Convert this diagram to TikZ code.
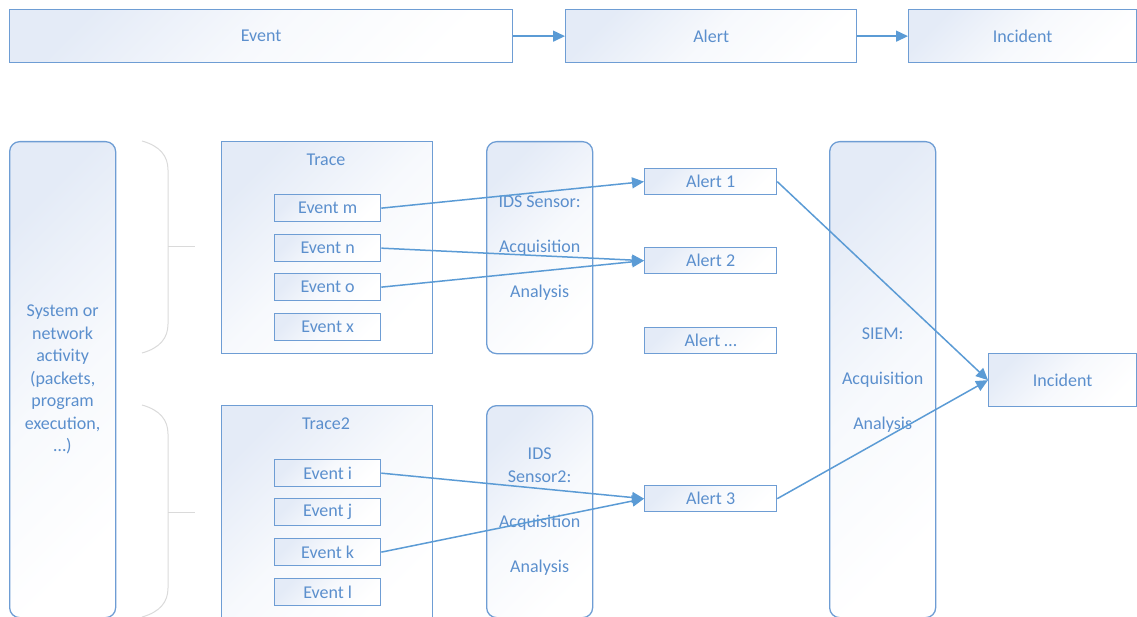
\documentclass[tikz,border=0pt]{standalone}
\usepackage{fontspec}
\setmainfont{Carlito}
\usetikzlibrary{arrows.meta}
\definecolor{txt}{RGB}{91,143,205}
\definecolor{bord}{RGB}{110,157,212}
\definecolor{arr}{RGB}{91,155,213}
\definecolor{shd}{RGB}{228,235,247}
\definecolor{brc}{RGB}{218,218,218}
\begin{document}
\begin{tikzpicture}[x=1pt,y=-1pt,
  box/.style={draw=bord, line width=1.3pt, top color=shd, bottom color=white, middle color=white!70!shd, shading angle=45,
    inner sep=0pt, text=txt, font=\fontsize{18}{22.5}\selectfont, anchor=north west, align=center},
  topbox/.style={box, minimum height=53pt},
  rbox/.style={box, rounded corners=10pt},
  evbox/.style={box, minimum width=106pt, minimum height=27pt},
  albox/.style={box, minimum width=132pt, minimum height=26pt},
  lbl/.style={text=txt, font=\fontsize{18}{22.5}\selectfont, inner sep=0pt},
  conn/.style={draw=arr, line width=1.5pt, -{Triangle[length=12pt,width=11pt]}},
  brace/.style={draw=brc, line width=1pt}]
\useasboundingbox (0,0) rectangle (1137,617);

% top row
\node[topbox, minimum width=503pt] (tev) at (9,9) {Event};
\node[topbox, minimum width=291pt] (tal) at (565,9) {Alert};
\node[topbox, minimum width=228pt] (tin) at (908,9) {Incident};
\draw[conn] (tev) -- (tal);
\draw[conn] (tal) -- (tin);

% system activity
\node[rbox, minimum width=106pt, minimum height=476pt] (sys) at (9,141)
  {System or\\network\\activity\\(packets,\\program\\execution,\\…)};

% braces
\draw[brace] (142,141) .. controls (160,146) and (168,156) .. (168,170) -- (168,324)
  .. controls (168,338) and (160,348) .. (142,353);
\coordinate (b1) at (168,247);
\coordinate (b1e) at (195,247);
\draw[brace] (b1) -- (b1e);
\draw[brace] (142,405) .. controls (160,410) and (168,420) .. (168,434) -- (168,588)
  .. controls (168,602) and (160,612) .. (142,617);
\coordinate (b2) at (168,512);
\coordinate (b2e) at (195,512);
\draw[brace] (b2) -- (b2e);

% traces
\node[box, minimum width=211pt, minimum height=212pt] (tr1) at (221,141) {};
\node[lbl] (tr1l) at (326,160) {Trace};
\node[evbox] (em) at (274,194) {Event m};
\node[evbox] (en) at (274,234) {Event n};
\node[evbox] (eo) at (274,273) {Event o};
\node[evbox] (ex) at (274,313) {Event x};

\node[box, minimum width=211pt, minimum height=212pt] (tr2) at (221,405) {};
\node[lbl] (tr2l) at (326,424) {Trace2};
\node[evbox] (ei) at (274,459) {Event i};
\node[evbox] (ej) at (274,498) {Event j};
\node[evbox] (ek) at (274,538) {Event k};
\node[evbox] (el) at (274,578) {Event l};

% IDS sensors
\node[rbox, minimum width=106pt, minimum height=212pt] (ids1) at (486,141)
  {IDS Sensor:\\[22.5pt]Acquisition\\[22.5pt]Analysis};
\node[rbox, minimum width=106pt, minimum height=212pt] (ids2) at (486,405)
  {IDS\\Sensor2:\\[22.5pt]Acquisition\\[22.5pt]Analysis};

% alerts
\node[albox] (a1) at (644,168) {Alert 1};
\node[albox] (a2) at (644,247) {Alert 2};
\node[albox] (a3) at (644,327) {Alert …};
\node[albox] (a4) at (644,485) {Alert 3};

% SIEM
\node[rbox, minimum width=106pt, minimum height=476pt] (siem) at (829,141)
  {SIEM:\\[22.5pt]Acquisition\\[22.5pt]Analysis};

% incident
\node[box, minimum width=148pt, minimum height=53pt] (inc) at (988,353) {Incident};

% connectors
\draw[conn] (em.east) -- (a1.west);
\draw[conn] (en.east) -- (a2.west);
\draw[conn] (eo.east) -- (a2.west);
\draw[conn] (ei.east) -- (a4.west);
\draw[conn] (ek.east) -- (a4.west);
\draw[conn] (a1.east) -- (inc.west);
\draw[conn] (a4.east) -- (inc.west);
\end{tikzpicture}
\end{document}
